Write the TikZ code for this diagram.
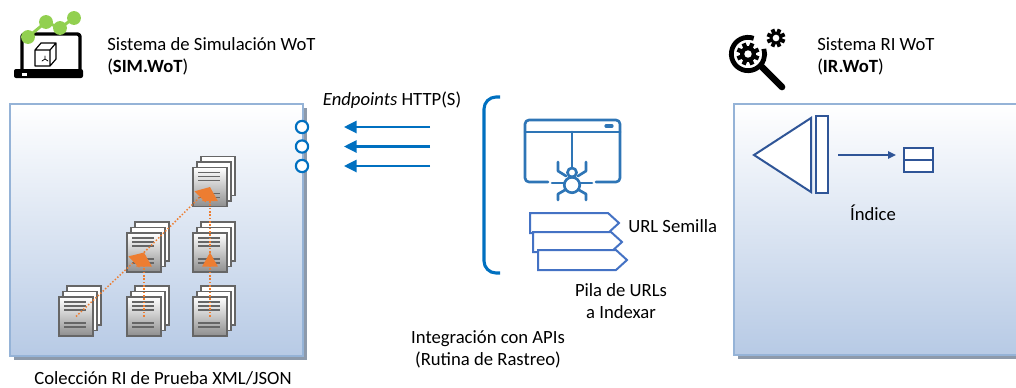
\documentclass[tikz,border=0pt]{standalone}
\usepackage{fontspec}
\setmainfont{Carlito}
\usetikzlibrary{
  arrows.meta,
  calc,
  positioning
}
\definecolor{simBorder}{HTML}{95B3D7}
\definecolor{simFill}{HTML}{B7CAE5}
\definecolor{simShadow}{HTML}{8D9AAB}
\definecolor{portBlue}{HTML}{0070C0}
\definecolor{crawlBlue}{HTML}{2E75B6}
\definecolor{tagBlue}{HTML}{4472C4}
\definecolor{idxBlue}{HTML}{2F5597}
\definecolor{flowOrange}{HTML}{ED7D31}
\definecolor{docGray}{HTML}{666666}
\definecolor{docShade}{HTML}{8E8E8E}
\definecolor{dotGreen}{HTML}{92D050}
\tikzset{
  every node/.style={font=\fontsize{14}{16.5}\selectfont, text=black, inner sep=0pt},
  panel/.style={
    draw=simBorder,
    line width=1.5pt,
    top color=white,
    bottom color=simFill,
    anchor=north west,
    preaction={fill=simShadow, transform canvas={xshift=3pt, yshift=-3pt}}
  },
  port/.style={
    circle,
    draw=portBlue,
    line width=1.6pt,
    fill=white,
    minimum size=9.2pt
  },
  reqarrow/.style={
    -{Triangle[length=9.5pt,width=9pt]},
    line width=2pt,
    draw=portBlue
  },
  bracket/.style={draw=portBlue, line width=2.3pt, rounded corners=9pt},
  crawler/.style={draw=crawlBlue, line width=2pt, line cap=round, line join=round},
  urltag/.style={draw=tagBlue, line width=1.5pt, fill=white},
  docback/.style={draw=docGray, line width=1.1pt, fill=white},
  docfront/.style={draw=docGray, line width=1.1pt, top color=white, bottom color=docShade},
  docline/.style={draw=docGray, line width=1.1pt},
  flow/.style={
    -{Triangle[length=10.5pt,width=11.5pt]},
    draw=flowOrange,
    line width=1.1pt,
    dash pattern=on 1.1pt off 1.4pt
  },
  idx/.style={draw=idxBlue, line width=1.5pt},
  idxarrow/.style={draw=idxBlue, line width=1.1pt, -{Triangle[length=6pt,width=5.5pt]}},
  icon/.style={draw=black, line cap=round, line join=round}
}
% stack of three pages, named by its front page centre
\newcommand\docstack[2]{%
  \begin{scope}[shift={(#2)}]
    \foreach \o in {2,1}
      \draw[docback] (4*\o-17,-5.5*\o-19.5) rectangle ++(34,39);
    \draw[docfront] (-17,-19.5) rectangle (17,19.5);
    \foreach \l in {-14.5,-10.5,-6.5,6.5,10.5}
      \draw[docline] (-12,\l) -- (10,\l);
    \coordinate (#1) at (0,0);
  \end{scope}}
% gear: centre, body radius, tooth radius, hole radius, tooth width
\newcommand\gear[5]{%
  \foreach \a in {0,45,...,315}
    \draw[line width=#5] (#1) -- ++(\a+22.5:#3);
  \fill (#1) circle (#2);
  \fill[white] (#1) circle (#4);}

\begin{document}
\begin{tikzpicture}[x=0.75pt, y=-0.75pt]
  \useasboundingbox (0,0) rectangle (1016,387);
  \clip (0,0) rectangle (1016,387);

  % simulation system
  \node[panel, minimum width=219.75pt, minimum height=189pt] (sim) at (9,103) {};
  \node[port] (p1) at (302,127) {};
  \node[port] (p2) at (302,146.5) {};
  \node[port] (p3) at (302,166) {};

  \docstack{s1}{76,316.5}
  \docstack{s2}{144,316.5}
  \docstack{s3}{210,316.5}
  \docstack{s4}{144,252.5}
  \docstack{s5}{210,252.5}
  \docstack{s6}{210,187}

  \draw[flow] (s1) -- (s4);
  \draw[flow] (s2) -- (s4);
  \draw[flow] (s3) -- (s5);
  \draw[flow] (s4) -- (s6);
  \draw[flow] (s5) -- (s6);

  \node (simcap) at (163,378) {Colección RI de Prueba XML/JSON};

  % laptop with chart
  \draw[icon, line width=2.6pt, rounded corners=2pt] (22,69) -- (22,34) -- (80,34) -- (80,69);
  \fill[rounded corners=1.5pt] (14,69) rectangle (83,78);
  \fill[white] (22,73) rectangle (27,75.5);
  \draw[icon, line width=0.9pt] (35,50) rectangle (50,66)
    (35,50) -- (41,43) -- (56,43) -- (50,50)
    (56,43) -- (56,59) -- (50,66);
  \draw[icon, line width=0.6pt] (45,56) -- (45,59) -- (42,61) (45,59) -- (48,61);
  \draw[draw=dotGreen, line width=2.2pt] (28,37) -- (46,22) -- (60,28) -- (74,18);
  \foreach \p in {(28,37),(46,22),(60,28),(74,18)}
    \fill[dotGreen] \p circle (5.2pt);
  \node[anchor=west, align=left] (simtitle) at (107,56)
    {Sistema de Simulación WoT\\(\textbf{SIM.WoT})};

  % requests towards the endpoints
  \coordinate (q1) at (430,127);
  \coordinate (q2) at (430,146.5);
  \coordinate (q3) at (430,166);
  \draw[reqarrow, shorten >=26pt] (q1) -- (p1);
  \draw[reqarrow, shorten >=26pt] (q2) -- (p2);
  \draw[reqarrow, shorten >=26pt] (q3) -- (p3);
  \node (eplabel) at (392,100) {\textit{Endpoints} HTTP(S)};

  % crawler
  \draw[bracket] (500,97) -- (484,97) -- (484,273) -- (500,273);
  \draw[crawler, rounded corners=3pt] (548,182) -- (525,182) -- (525,120) -- (620,120) -- (620,182) -- (596,182);
  \draw[crawler] (525,132) -- (620,132);
  \draw[crawler, line width=2.4pt] (606,126) -- (612,126);
  \draw[crawler] (572,132) -- (572,168);
  \draw[crawler] (572,172.5) circle (3.4pt);
  \draw[crawler] (572,185) circle (5.8pt);
  \foreach \s in {1,-1} {
    \draw[crawler] (572-6*\s,176) -- (572-14*\s,171) -- (572-14*\s,162);
    \draw[crawler] (572-8*\s,183) -- (572-20*\s,183);
    \draw[crawler] (572-7*\s,190) -- (572-14*\s,194) -- (572-14*\s,200);
  }

  % seed urls
  \foreach \dx/\dy [count=\i] in {0/0,3/19,8/37} {
    \draw[urltag] (530+\dx,213+\dy) -- ++(78,0) -- ++(11,10) -- ++(-11,10) -- ++(-78,0) -- cycle;
    \coordinate (tag\i) at (619+\dx,223+\dy);
  }
  \node[anchor=west] (seedlabel) at (628,226) {URL Semilla};
  \node[align=center] (stacklabel) at (621,301) {Pila de URLs\\a Indexar};
  \node[align=center] (apilabel) at (488,349) {Integración con APIs\\(Rutina de Rastreo)};

  % retrieval system
  \node[panel, minimum width=222.75pt, minimum height=188.25pt] (irs) at (733,103) {};
  \draw[idx, fill=white] (754,155) -- (811,118) -- (811,192) -- cycle;
  \node[idx, fill=white, minimum width=9pt, minimum height=57.75pt] (idxbar) at (822,154.5) {};
  \node[idx, fill=white, minimum width=21.75pt, minimum height=18pt] (idxcell) at (918.5,160) {};
  \draw[idx] (idxcell.west) -- (idxcell.east);
  \draw[idxarrow, shorten <=6.75pt, shorten >=5.25pt] (idxbar.east |- 0,155) -- (idxcell.west |- 0,155);
  \node (idxlabel) at (873,213) {Índice};

  % magnifier with gears
  \draw[line width=3.6pt] (748,54) ++(70:12.5pt) arc[start angle=70, end angle=378, radius=12.5pt];
  \draw[line width=5pt, line cap=round] (762,67) -- (782,87);
  \gear{748,54}{6pt}{8.6pt}{2.8pt}{3.2pt}
  \gear{776,38}{4.6pt}{7pt}{2.5pt}{2.9pt}
  \node[anchor=west, align=left] (irtitle) at (817,56)
    {Sistema RI WoT\\(\textbf{IR.WoT})};
\end{tikzpicture}
\end{document}
